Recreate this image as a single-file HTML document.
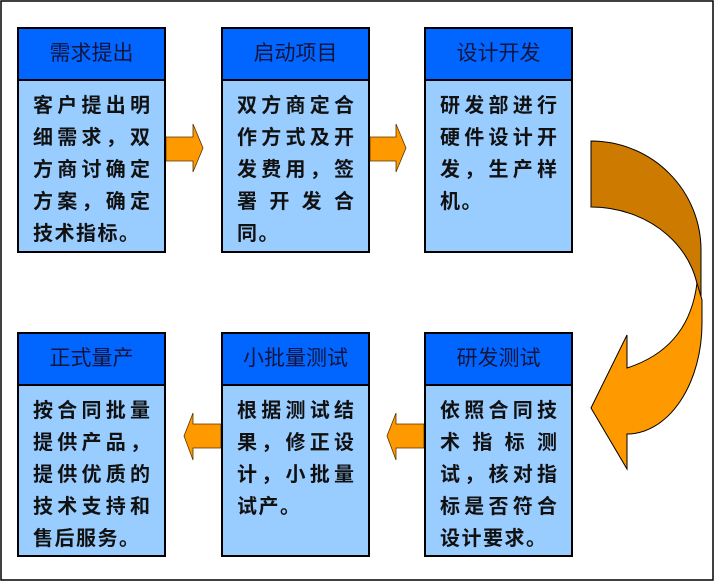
<!DOCTYPE html>
<html><head><meta charset="utf-8"><style>
html,body{margin:0;padding:0;background:#fff;}
body{width:715px;height:582px;position:relative;overflow:hidden;font-family:"Liberation Sans","Noto Sans CJK SC",sans-serif;}
.box{position:absolute;width:149px;box-sizing:border-box;border:2px solid #000;background:#99ccff;}
.hd{height:52px;box-sizing:border-box;border-bottom:2px solid #000;background:#0066ff;color:#14143c;font-size:21px;line-height:50px;text-align:center;font-family:"Liberation Sans","Noto Sans CJK SC",sans-serif;}
.bd{padding:9px 14px 0 14px;font-size:20px;line-height:32px;font-weight:bold;color:#111;}
.j{display:flex;justify-content:space-between;height:32px;}
.l{letter-spacing:1.5px;white-space:nowrap;height:32px;}
svg{position:absolute;left:0;top:0;}
</style></head><body>
<svg width="715" height="582" viewBox="0 0 715 582">
<rect x="1" y="1" width="712" height="579" fill="#fff" stroke="#000" stroke-width="1.5"/>
<!-- straight arrows -->
<path d="M166,137 L193,137 L193,124 L203,148 L193,172 L193,161 L166,161 Z" fill="#ff9900" stroke="#5a3300" stroke-width="0.8"/>
<path d="M370,137 L396,137 L396,124 L406,148 L396,172 L396,161 L370,161 Z" fill="#ff9900" stroke="#5a3300" stroke-width="0.8"/>
<path d="M221,424 L193,424 L193,413 L184,436 L193,460 L193,448 L221,448 Z" fill="#ff9900" stroke="#5a3300" stroke-width="0.8"/>
<path d="M424,424 L396,424 L396,413 L387,436 L396,460 L396,448 L424,448 Z" fill="#ff9900" stroke="#5a3300" stroke-width="0.8"/>
<!-- curved arrow -->
<path d="M591,141 A110,109 0 0 1 701,250 L701,302 L699,302 A108,95 0 0 0 591,207 Z" fill="#cc7a00" stroke="#000" stroke-width="1"/>
<path d="M697,283 L702,300 L702,323 A75,111 0 0 1 627,434 L627,469 L591,408 L627,335 L627,368 Q689,348 697,283 Z" fill="#ff9900" stroke="#000" stroke-width="1"/>
</svg>

<div class="box" style="left:17px;top:27px;height:226px;">
<div class="hd">需求提出</div>
<div class="bd">
<div class="j"><span>客</span><span>户</span><span>提</span><span>出</span><span>明</span></div>
<div class="j"><span>细</span><span>需</span><span>求</span><span>，</span><span>双</span></div>
<div class="j"><span>方</span><span>商</span><span>讨</span><span>确</span><span>定</span></div>
<div class="j"><span>方</span><span>案</span><span>，</span><span>确</span><span>定</span></div>
<div class="l">技术指标。</div>
</div></div>

<div class="box" style="left:221px;top:27px;height:226px;">
<div class="hd">启动项目</div>
<div class="bd">
<div class="j"><span>双</span><span>方</span><span>商</span><span>定</span><span>合</span></div>
<div class="j"><span>作</span><span>方</span><span>式</span><span>及</span><span>开</span></div>
<div class="j"><span>发</span><span>费</span><span>用</span><span>，</span><span>签</span></div>
<div class="j"><span>署</span><span>开</span><span>发</span><span>合</span></div>
<div class="l">同。</div>
</div></div>

<div class="box" style="left:424px;top:27px;height:226px;">
<div class="hd">设计开发</div>
<div class="bd">
<div class="j"><span>研</span><span>发</span><span>部</span><span>进</span><span>行</span></div>
<div class="j"><span>硬</span><span>件</span><span>设</span><span>计</span><span>开</span></div>
<div class="j"><span>发</span><span>，</span><span>生</span><span>产</span><span>样</span></div>
<div class="l">机。</div>
</div></div>

<div class="box" style="left:17px;top:332px;height:225px;">
<div class="hd">正式量产</div>
<div class="bd">
<div class="j"><span>按</span><span>合</span><span>同</span><span>批</span><span>量</span></div>
<div class="j"><span>提</span><span>供</span><span>产</span><span>品</span><span>，</span></div>
<div class="j"><span>提</span><span>供</span><span>优</span><span>质</span><span>的</span></div>
<div class="j"><span>技</span><span>术</span><span>支</span><span>持</span><span>和</span></div>
<div class="l">售后服务。</div>
</div></div>

<div class="box" style="left:221px;top:332px;height:225px;">
<div class="hd">小批量测试</div>
<div class="bd">
<div class="j"><span>根</span><span>据</span><span>测</span><span>试</span><span>结</span></div>
<div class="j"><span>果</span><span>，</span><span>修</span><span>正</span><span>设</span></div>
<div class="j"><span>计</span><span>，</span><span>小</span><span>批</span><span>量</span></div>
<div class="l">试产。</div>
</div></div>

<div class="box" style="left:424px;top:332px;height:225px;">
<div class="hd">研发测试</div>
<div class="bd">
<div class="j"><span>依</span><span>照</span><span>合</span><span>同</span><span>技</span></div>
<div class="j"><span>术</span><span>指</span><span>标</span><span>测</span></div>
<div class="j"><span>试</span><span>，</span><span>核</span><span>对</span><span>指</span></div>
<div class="j"><span>标</span><span>是</span><span>否</span><span>符</span><span>合</span></div>
<div class="l">设计要求。</div>
</div></div>
</body></html>
